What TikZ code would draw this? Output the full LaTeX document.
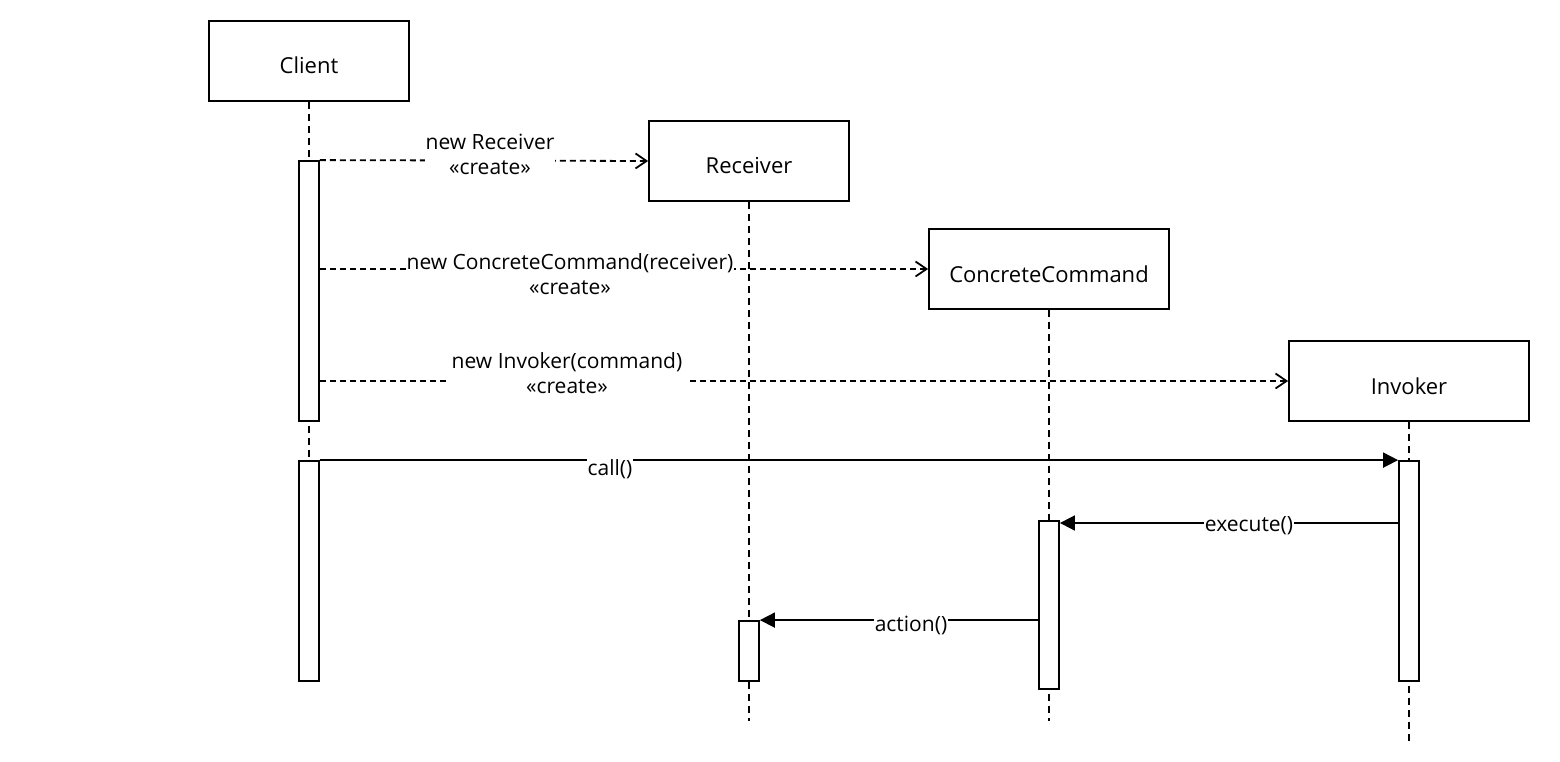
\documentclass[tikz,border=0pt]{standalone}
\usepackage{fontspec}
\setmainfont{Open Sans}
\usetikzlibrary{arrows.meta}

\begin{document}
\begin{tikzpicture}[x=1pt,y=-1pt,
  head/.style={draw, line width=1.8pt, fill=white, minimum width=200pt,
    minimum height=80pt, inner sep=0pt, text height=26pt, text depth=0pt,
    font=\fontsize{22}{26}\selectfont},
  act/.style={draw, line width=1.8pt, fill=white, minimum width=20pt,
    inner sep=0pt},
  life/.style={line width=1.8pt, dash pattern=on 7pt off 5pt},
  create/.style={line width=1.8pt, dash pattern=on 6pt off 4pt,
    -{Straight Barb[length=11pt,width=15pt,line width=1.8pt]}},
  callmsg/.style={line width=1.8pt, -{Triangle[length=15pt,width=15pt]}},
  lbl/.style={fill=white, inner sep=1pt, align=center,
    font=\fontsize{21}{25}\selectfont}
]
\useasboundingbox (0,0) rectangle (1560,762);

% participants
\node[head] (client) at (309,61)   {Client};
\node[head] (recv)   at (749,161)  {Receiver};
\node[head, minimum width=240pt] (cc)  at (1049,269) {ConcreteCommand};
\node[head, minimum width=240pt] (inv) at (1409,381) {Invoker};

% lifeline ends
\coordinate (clientend) at (309,461);
\coordinate (recvend)   at (749,721);
\coordinate (ccend)     at (1049,721);
\coordinate (invend)    at (1409,741);

% lifelines
\draw[life] (client.south) -- (clientend);
\draw[life] (recv.south) -- (recvend);
\draw[life] (cc.south) -- (ccend);
\draw[life] (inv.south) -- (invend);

% activation bars
\node[act, minimum height=260pt] (ca1) at (309,291) {};
\node[act, minimum height=220pt] (ca2) at (309,571) {};
\node[act, minimum height=60pt]  (ra)  at (749,651) {};
\node[act, minimum height=168pt] (cca) at (1049,605) {};
\node[act, minimum height=220pt] (ia)  at (1409,571) {};

% object creation
\draw[create] (ca1.north east) -- (recv.west);
\draw[create] (ca1.east |- cc.west) -- (cc.west);
\draw[create] (ca1.east |- inv.west) -- (inv.west);

% synchronous calls
\draw[callmsg] (ca2.north east) -- (ia.north west);
\draw[callmsg] (ia.west |- 0,523) -- (cca.east |- 0,523);
\draw[callmsg] (cca.west |- ra.north) -- (ra.north east);

% message labels
\node[lbl] (l1) at (490,154) {new Receiver\\«create»};
\node[lbl] (l2) at (570,274) {new ConcreteCommand(receiver)\\«create»};
\node[lbl, minimum width=240pt] (l3) at (567,373) {new Invoker(command)\\«create»};
\node[lbl] (l4) at (610,469) {call()};
\node[lbl] (l5) at (1249,526) {execute()};
\node[lbl] (l6) at (911,625) {action()};
\end{tikzpicture}
\end{document}
